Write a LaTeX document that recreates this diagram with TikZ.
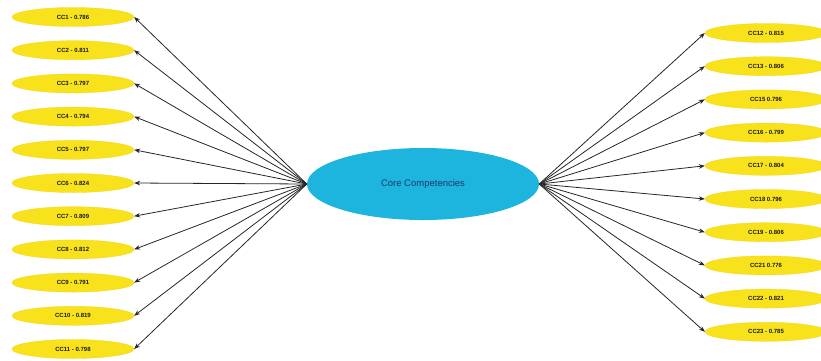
\documentclass[tikz,border=0pt]{standalone}
\usepackage{fontspec}
\setmainfont{Liberation Sans}
\usetikzlibrary{shapes.geometric,arrows.meta}
\definecolor{itemfill}{HTML}{F7E21B}
\definecolor{corefill}{HTML}{1DB4DE}
\definecolor{coretext}{HTML}{1A3A6A}
\tikzset{
  item/.style={ellipse, fill=itemfill, draw=itemfill!85!orange, line width=0.3pt,
    minimum width=122pt, minimum height=19pt, inner sep=0pt,
    font=\fontsize{6}{7}\selectfont\bfseries, text=black!90},
  core/.style={ellipse, fill=corefill, draw=none, minimum width=232pt,
    minimum height=72pt, font=\fontsize{9.5}{10}\selectfont, text=coretext},
  link/.style={-{Stealth[length=6pt,width=4.5pt]}, line width=0.8pt, black!85}
}
\begin{document}
\begin{tikzpicture}[x=1pt,y=-1pt]
\useasboundingbox (0,0) rectangle (821,360);
\node[core] (core) at (423,184) {Core Competencies};
% left indicators
\foreach \t [count=\i] in {CC1 - 0.786,CC2 - 0.811,CC3 - 0.797,CC4 - 0.794,CC5 - 0.797,CC6 - 0.824,CC7 - 0.809,CC8 - 0.812,CC9 - 0.791,CC10 - 0.819,CC11 - 0.798}{
  \node[item] (l\i) at (73,{17+(\i-1)*33.2}) {\t};
  \draw[link] (core.west) -- (l\i.east);
}
% right indicators
\foreach \t [count=\i] in {CC12 - 0.815,CC13 - 0.806,CC15 0.796,CC16 - 0.799,CC17 - 0.804,CC18 0.796,CC19 - 0.806,CC21 0.776,CC22 - 0.821,CC23 - 0.785}{
  \node[item] (r\i) at (766,{33+(\i-1)*33.2}) {\t};
  \draw[link] (core.east) -- (r\i.west);
}
\end{tikzpicture}
\end{document}
